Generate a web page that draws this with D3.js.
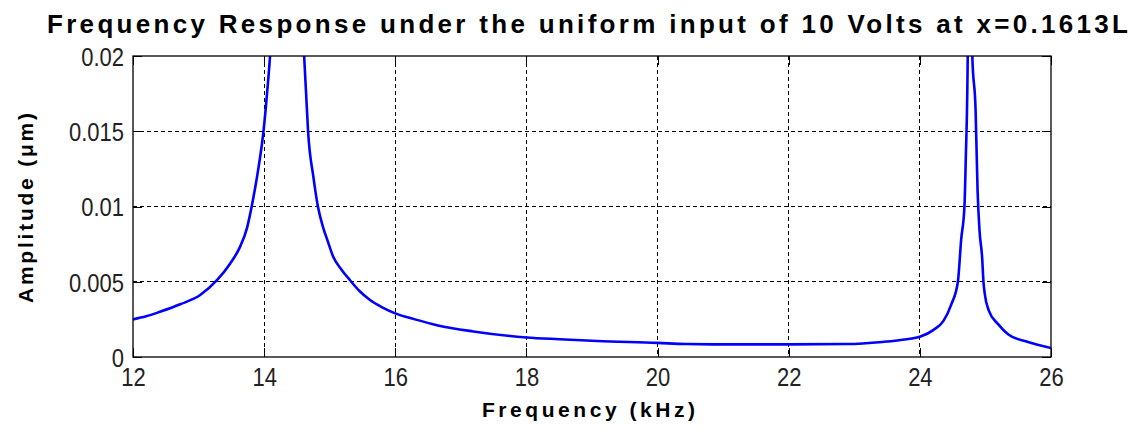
<!DOCTYPE html>
<html>
<head>
<meta charset="utf-8">
<script src="https://cdnjs.cloudflare.com/ajax/libs/d3/7.8.5/d3.min.js"></script>
<style>
  body { margin: 0; background: #fff; }
  text { font-family: Arial, "Liberation Sans", sans-serif; fill: #000; }
</style>
</head>
<body>
<div id="chart"></div>
<script>
// Peak tops go past the axis limit and are clipped like in the original plot.
var freqKHz = [12.0, 12.2, 12.41, 12.72, 13.02, 13.28, 13.48, 13.63, 13.74, 13.81,
  13.9, 13.99, 14.05, 14.09, 14.2, 14.35, 14.5, 14.61, 14.64, 14.67,
  14.75, 14.82, 14.9, 14.97, 15.05, 15.18, 15.31, 15.45, 15.61, 15.8,
  16.0, 16.3, 16.65, 17.19, 18.0, 18.5, 19.08, 20.0, 20.43, 21.0,
  22.0, 22.89, 23.43, 23.8, 24.0, 24.21, 24.36, 24.48, 24.58, 24.63,
  24.68, 24.7, 24.73, 24.765, 24.8, 24.85, 24.88, 24.91, 24.95, 24.97,
  24.99, 25.05, 25.19, 25.35, 25.65, 26.0];

var amplitude = [0.0025, 0.0027, 0.0030, 0.0035, 0.0041, 0.0051, 0.0062, 0.0073, 0.0086, 0.0100,
  0.0122, 0.0150, 0.0178, 0.0200, 0.030, 0.060, 0.030, 0.0200, 0.0175, 0.0150,
  0.0120, 0.0100, 0.0086, 0.0077, 0.0067, 0.0058, 0.0051, 0.0044, 0.0038, 0.0033,
  0.0029, 0.0025, 0.0021, 0.0017, 0.0013, 0.00118, 0.00106, 0.00094, 0.00086, 0.00084,
  0.00084, 0.00086, 0.0010, 0.00118, 0.00134, 0.0018, 0.0024, 0.0035, 0.0050, 0.0078,
  0.0100, 0.0131, 0.0200, 0.050, 0.0200, 0.0164, 0.0111, 0.0084, 0.0066, 0.0050,
  0.0042, 0.0031, 0.0022, 0.0015, 0.0010, 0.0006];

var xTicks = [12, 14, 16, 18, 20, 22, 24, 26];
var yTicks = [0, 0.005, 0.01, 0.015, 0.02];
var yTickLabels = ["0", "0.005", "0.01", "0.015", "0.02"];

var titleText = "Frequency Response under the uniform input of 10 Volts at x=0.1613L";
var xLabelText = "Frequency (kHz)";
var yLabelText = "Amplitude (\u03bcm)";

// The original image is a bit stretched vertically, so tick text gets the same stretch
var stretch = 1.18;

var svgWidth = 1140;
var svgHeight = 428;

var margin = { top: 56, right: 89, bottom: 71, left: 133 };
var chartWidth = svgWidth - margin.left - margin.right;
var chartHeight = svgHeight - margin.top - margin.bottom;

var svg = d3.select("#chart").append("svg")
  .attr("width", svgWidth)
  .attr("height", svgHeight);

var chartGroup = svg.append("g")
  .attr("transform", `translate(${margin.left}, ${margin.top})`);

var xScale = d3.scaleLinear().domain([12, 26]).range([0, chartWidth]);
var yScale = d3.scaleLinear().domain([0, 0.02]).range([chartHeight, 0]);

// dashed grid lines on the inner ticks
chartGroup.append("g")
  .selectAll("line")
  .data(xTicks.slice(1, -1))
  .enter()
  .append("line")
  .attr("x1", d => xScale(d)).attr("x2", d => xScale(d))
  .attr("y1", 0).attr("y2", chartHeight)
  .attr("stroke", "#000")
  .attr("stroke-dasharray", "4,3")
  .attr("shape-rendering", "crispEdges");

chartGroup.append("g")
  .selectAll("line")
  .data(yTicks.slice(1, -1))
  .enter()
  .append("line")
  .attr("x1", 0).attr("x2", chartWidth)
  .attr("y1", d => yScale(d)).attr("y2", d => yScale(d))
  .attr("stroke", "#000")
  .attr("stroke-dasharray", "4,3")
  .attr("shape-rendering", "crispEdges");

// axes with inward ticks, on all four sides
var bottomAxis = d3.axisBottom(xScale).tickValues(xTicks).tickSizeInner(-9).tickSizeOuter(0);
var leftAxis = d3.axisLeft(yScale).tickValues(yTicks)
  .tickFormat((d, i) => yTickLabels[i]).tickSizeInner(-9).tickSizeOuter(0);
var topAxis = d3.axisTop(xScale).tickValues(xTicks).tickSizeInner(-9).tickSizeOuter(0).tickFormat("");
var rightAxis = d3.axisRight(yScale).tickValues(yTicks).tickSizeInner(-9).tickSizeOuter(0).tickFormat("");

var gBottom = chartGroup.append("g")
  .attr("transform", `translate(0,${chartHeight})`)
  .call(bottomAxis);
gBottom.selectAll("text")
  .attr("y", 29 / stretch)
  .attr("dy", 0)
  .attr("transform", `scale(1,${stretch})`)
  .style("font-size", "22px")
  .style("fill", "#222");

var gLeft = chartGroup.append("g").call(leftAxis);
gLeft.selectAll("text")
  .attr("x", -9)
  .attr("dy", "0.36em")
  .attr("transform", `scale(1,${stretch})`)
  .style("font-size", "22px")
  .style("fill", "#222");

chartGroup.append("g").call(topAxis);
chartGroup.append("g").attr("transform", `translate(${chartWidth},0)`).call(rightAxis);

chartGroup.selectAll(".domain").remove();
chartGroup.selectAll(".tick line").attr("stroke", "#000").attr("shape-rendering", "crispEdges");

// clip the curve to the plot box
svg.append("defs").append("clipPath")
  .attr("id", "plotClip")
  .append("rect")
  .attr("width", chartWidth)
  .attr("height", chartHeight);

var points = freqKHz.map((f, i) => [f, amplitude[i]]);

var line = d3.line()
  .x(d => xScale(d[0]))
  .y(d => yScale(d[1]))
  .curve(d3.curveMonotoneX);

chartGroup.append("path")
  .datum(points)
  .attr("clip-path", "url(#plotClip)")
  .attr("fill", "none")
  .attr("stroke", "#0000ff")
  .attr("stroke-width", 2.6)
  .attr("d", line);

// box round the plot
chartGroup.append("rect")
  .attr("width", chartWidth)
  .attr("height", chartHeight)
  .attr("fill", "none")
  .attr("stroke", "#000")
  .attr("stroke-width", 1.3);

// title and axis labels
svg.append("text")
  .attr("transform", "translate(47,33)")
  .attr("textLength", 1081)
  .attr("lengthAdjust", "spacing")
  .style("font-size", "26px")
  .style("font-weight", "bold")
  .text(titleText);

svg.append("text")
  .attr("transform", "translate(482,417)")
  .attr("textLength", 213)
  .attr("lengthAdjust", "spacing")
  .style("font-size", "21px")
  .style("font-weight", "bold")
  .text(xLabelText);

svg.append("text")
  .attr("transform", "translate(33,303) rotate(-90)")
  .attr("textLength", 190)
  .attr("lengthAdjust", "spacing")
  .style("font-size", "21px")
  .style("font-weight", "bold")
  .text(yLabelText);
</script>
</body>
</html>
